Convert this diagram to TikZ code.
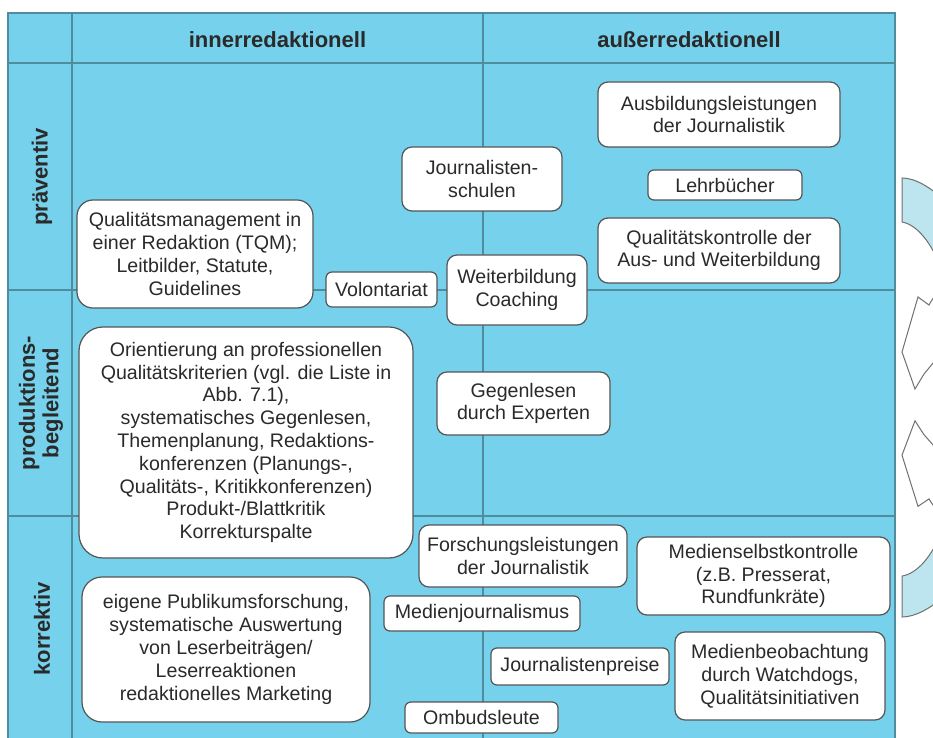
\documentclass[tikz,border=0pt]{standalone}
\usepackage{fontspec}
\setmainfont{Liberation Sans}
\definecolor{tableBlue}{HTML}{76D2EC}
\definecolor{gridLine}{HTML}{4F8C9E}
\definecolor{boxLine}{HTML}{555555}
\definecolor{tailBlue}{HTML}{BDE5EF}
\definecolor{arrowLine}{HTML}{707070}
\definecolor{inkGray}{HTML}{2A2A2A}
\tikzset{
  cellLine/.style={draw=gridLine, line width=0.7pt},
  card/.style    ={draw=boxLine, fill=white, line width=0.6pt, rounded corners=5pt,
                   align=center, inner sep=1pt, text=inkGray,
                   font=\fontsize{9.8}{11.4}\selectfont},
  boxsize/.style 2 args={minimum width=#1*0.5pt, minimum height=#2*0.5pt},
  colHead/.style ={text=inkGray, font=\fontsize{11}{11.8}\selectfont\bfseries},
  rowHead/.style ={colHead, rotate=90, align=center},
  loopTail/.style={fill=tailBlue, draw=arrowLine, line width=0.5pt},
  loopHead/.style={fill=white, draw=arrowLine, line width=0.5pt},
}
\begin{document}
\begin{tikzpicture}[x=0.5pt, y=-0.5pt]
  \clip (0,0) rectangle (933,738);
  \fill[white] (0,0) rectangle (933,738);
  % table
  \fill[tableBlue] (8,13) rectangle (895,742);
  \draw[cellLine] (8,13) rectangle (895,742);
  \draw[cellLine] (8,63) -- (895,63);
  \draw[cellLine] (8,290) -- (895,290);
  \draw[cellLine] (8,516) -- (895,516);
  \draw[cellLine] (72,13) -- (72,742);
  \draw[cellLine] (483,13) -- (483,742);
  \node[colHead] (inner) at (277.5,40) {innerredaktionell};
  \node[colHead] (ausser) at (689,40) {außerredaktionell};
  \node[rowHead] (praev) at (42,177) {präventiv};
  \node[rowHead] (prod) at (41,403) {produktions-\\begleitend};
  \node[rowHead] (korr) at (42,629) {korrektiv};
  % praeventiv
  \node[card, boxsize={242}{65}] (ausbildung) at (719,114.5) {Ausbildungsleistungen\\der Journalistik};
  \node[card, boxsize={154}{30}, rounded corners=3pt] (lehrbuch) at (725,185) {Lehrbücher};
  \node[card, boxsize={242}{65}] (kontrolle) at (719,250.5) {Qualitätskontrolle der\\Aus- und Weiterbildung};
  \node[card, boxsize={160}{64}] (schulen) at (482,179) {Journalisten-\\schulen};
  \node[card, boxsize={111}{35}, rounded corners=3pt] (volontariat) at (381.5,289.5) {Volontariat};
  \node[card, boxsize={140}{70}] (coaching) at (517,290) {Weiterbildung\\Coaching};
  \node[card, boxsize={236}{108}, rounded corners=8pt] (tqm) at (195,254) {Qualitätsmanagement in\\einer Redaktion (TQM);\\Leitbilder, Statute,\\Guidelines};
  % produktionsbegleitend
  \node[card, boxsize={334}{231}, rounded corners=12pt] (kriterien) at (246,442.5) {Orientierung an professionellen\\Qualitätskriterien (vgl. die Liste in\\Abb. 7.1),\\systematisches Gegenlesen,\\Themenplanung, Redaktions-\\konferenzen (Planungs-,\\Qualitäts-, Kritikkonferenzen)\\Produkt-/Blattkritik\\Korrekturspalte};
  \node[card, boxsize={173}{63}] (experten) at (523.5,403.5) {Gegenlesen\\durch Experten};
  % korrektiv
  \node[card, boxsize={208}{62}] (forschung) at (523,556) {Forschungsleistungen\\der Journalistik};
  \node[card, boxsize={253}{78}] (selbstkontrolle) at (763.5,576) {Medienselbstkontrolle\\(z.B. Presserat,\\Rundfunkräte)};
  \node[card, boxsize={196}{35}, rounded corners=3pt] (medienjourn) at (482,613.5) {Medienjournalismus};
  \node[card, boxsize={178}{37}, rounded corners=3pt] (preise) at (580,666.5) {Journalistenpreise};
  \node[card, boxsize={210}{88}] (watchdogs) at (780,676) {Medienbeobachtung\\durch Watchdogs,\\Qualitätsinitiativen};
  \node[card, boxsize={153}{31}, rounded corners=3pt] (ombud) at (481.5,717.5) {Ombudsleute};
  \node[card, boxsize={288}{145}, rounded corners=10pt] (publikum) at (226,649.5) {eigene Publikumsforschung,\\systematische Auswertung\\von Leserbeiträgen/\\Leserreaktionen\\redaktionelles Marketing};
  % curved arrows at the right edge
  \foreach \oy/\sy in {178/1, 617/-0.93}{
    \begin{scope}[shift={(902,\oy)}, yscale=\sy]
      \filldraw[loopTail] (0,0) .. controls (12,0) and (28,8) .. (45,25) -- (45,100)
        -- (40,92) .. controls (30,66) and (16,47) .. (0,44) -- cycle;
      \filldraw[loopHead] (48,104) .. controls (38,110) and (32,118) .. (27,127) -- (16,119)
        -- (0,174) -- (13,211) -- (22,196) .. controls (32,184) and (40,174) .. (48,165);
    \end{scope}
  }
\end{tikzpicture}
\end{document}
